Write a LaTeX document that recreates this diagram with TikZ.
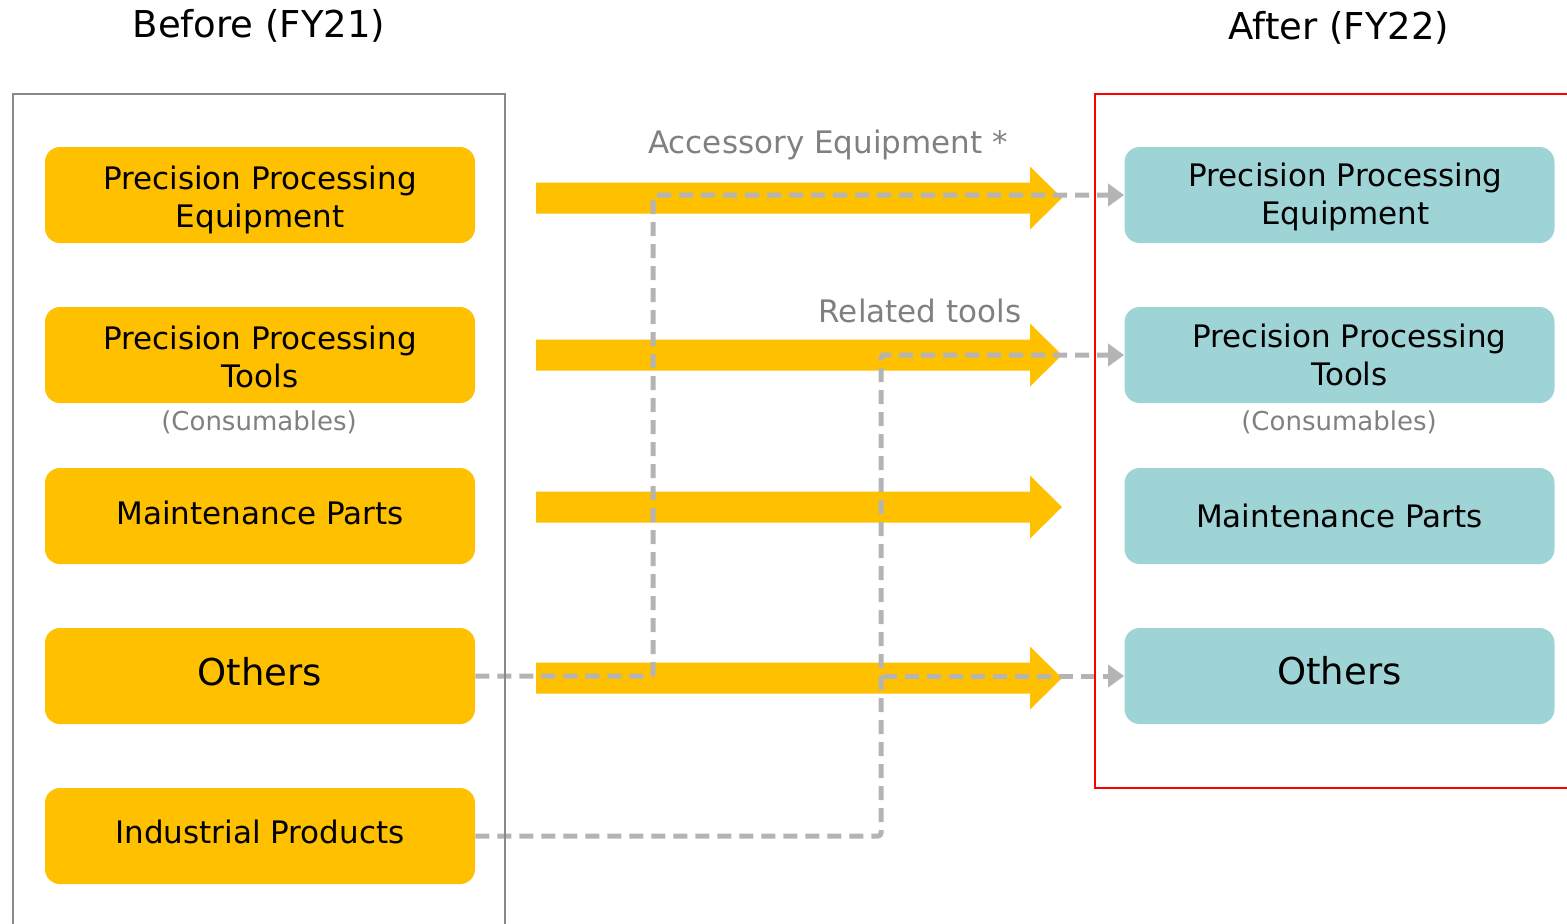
\documentclass[tikz,border=0pt]{standalone}
\usepackage{fontspec}
\setmainfont{DejaVu Sans}
\usetikzlibrary{arrows.meta}
\definecolor{ygold}{HTML}{FFC000}
\definecolor{tealbox}{HTML}{9FD4D7}
\definecolor{dashgray}{HTML}{B4B4B4}
\definecolor{labgray}{HTML}{808080}
\definecolor{framegray}{HTML}{888888}
\tikzset{
  oldbox/.style={fill=ygold, rounded corners=7.5pt, minimum width=215pt, minimum height=48pt, inner sep=0pt},
  newbox/.style={fill=tealbox, rounded corners=7.5pt, minimum width=215pt, minimum height=48pt, inner sep=0pt},
  btext/.style={inner sep=0pt, align=center, font=\fontsize{15.5}{19}\selectfont},
  bigtxt/.style={inner sep=0pt, font=\fontsize{18.5}{22}\selectfont},
  title/.style={font=\fontsize{18.5}{22}\selectfont, inner sep=0pt},
  glabel/.style={text=labgray, font=\fontsize{15.5}{19}\selectfont, inner sep=0pt},
  clabel/.style={text=labgray, font=\fontsize{13}{16}\selectfont, inner sep=0pt},
  flow/.style={draw=dashgray, line width=2.5pt, dash pattern=on 7pt off 4pt, rounded corners=1.5pt},
  flowarr/.style={flow, -{Triangle[length=8pt,width=11pt]}},
  yarrow/.style={fill=ygold}
}
\begin{document}
\begin{tikzpicture}[x=0.5pt,y=-0.5pt]
\useasboundingbox (0,0) rectangle (1567,923);
% yellow arrows
\foreach \c in {198,355,507,678}{
  \fill[yarrow] (536,\c-15.5) -- (1030,\c-15.5) -- (1030,\c-31.5) -- (1062,\c) -- (1030,\c+31.5) -- (1030,\c+15.5) -- (536,\c+15.5) -- cycle;
}
% boxes
\node[oldbox] (l1) at (260,195) {};
\node[oldbox] (l2) at (260,355) {};
\node[oldbox] (l3) at (260,516) {};
\node[oldbox] (l4) at (260,676) {};
\node[oldbox] (l5) at (260,836) {};
\node[newbox] (r1) at (1339.5,195) {};
\node[newbox] (r2) at (1339.5,355) {};
\node[newbox] (r3) at (1339.5,516) {};
\node[newbox] (r4) at (1339.5,676) {};
% box texts
\node[btext, yshift=-2.5pt] (l1t) at (l1.center) {Precision Processing\\Equipment};
\node[btext, yshift=-1pt] (l2t) at (l2.center) {Precision Processing\\Tools};
\node[btext, yshift=1.5pt] (l3t) at (l3.center) {Maintenance Parts};
\node[bigtxt, yshift=2pt] (l4t) at (l4.center) {Others};
\node[btext, yshift=2pt] (l5t) at (l5.center) {Industrial Products};
\node[btext, yshift=-1pt, xshift=3pt] (r1t) at (r1.center) {Precision Processing\\Equipment};
\node[btext, xshift=5pt] (r2t) at (r2.center) {Precision Processing\\Tools};
\node[btext] (r3t) at (r3.center) {Maintenance Parts};
\node[bigtxt, yshift=2.5pt] (r4t) at (r4.center) {Others};
% labels
\node[title] (t1) at (259,26) {Before (FY21)};
\node[title] (t2) at (1339,28) {After (FY22)};
\node[glabel] (a1) at (828,145) {Accessory Equipment *};
\node[glabel] (a2) at (920,311) {Related tools};
\node[clabel] (c1) at (259,422) {(Consumables)};
\node[clabel] (c2) at (1339,422) {(Consumables)};
% dashed flows
\coordinate (j1) at (653,676);
\coordinate (j2) at (653,195);
\coordinate (k1) at (881,836);
\coordinate (k2) at (881,355);
\coordinate (k3) at (883,676);
\draw[flowarr] (l4.east) -- (j1) -- (j2) -- (r1.west);
\draw[flowarr] (l5.east) -- (k1) -- (k2) -- (r2.west);
\draw[flowarr] (k3) -- (r4.west);
% frames
\begin{scope}
\clip (0,0) rectangle (1567,923);
\draw[framegray, line width=1pt] (13,940) -- (13,93.5) -- (505,93.5) -- (505,940);
\draw[red, line width=1pt] (1590,93.5) -- (1094.5,93.5) -- (1094.5,788) -- (1590,788);
\end{scope}
\end{tikzpicture}
\end{document}
